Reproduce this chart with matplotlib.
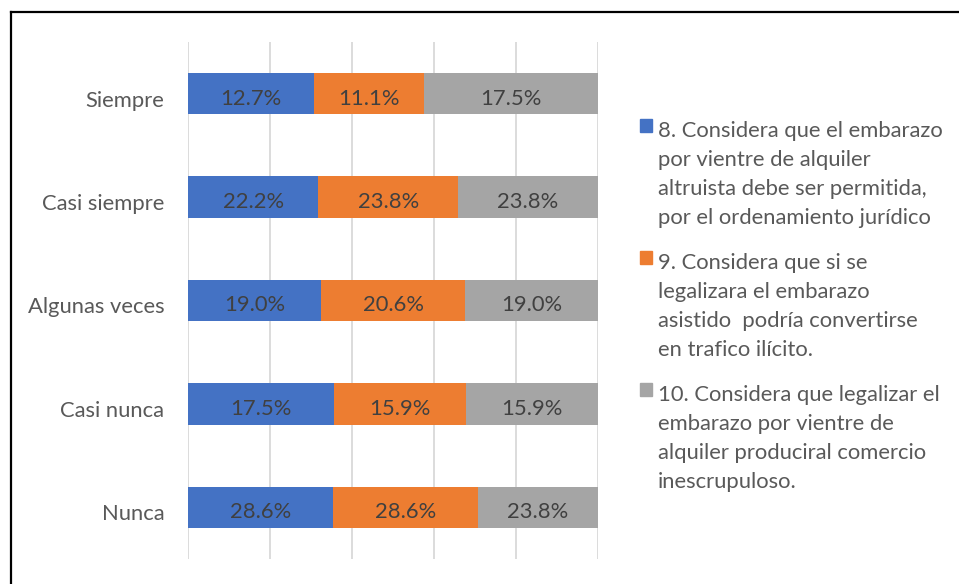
import matplotlib
matplotlib.use("Agg")
import matplotlib.pyplot as plt
import matplotlib.transforms as mtransforms
from matplotlib.patches import Rectangle
import numpy as np

plt.rcParams['font.family'] = ['Lato', 'DejaVu Sans']

categories = ["Siempre", "Casi siempre", "Algunas veces", "Casi nunca", "Nunca"]
series_names = [
    "8. Considera que el embarazo\npor vientre de alquiler\naltruista debe ser permitida,\npor el ordenamiento jurídico",
    "9. Considera que si se\nlegalizara el embarazo\nasistido  podría convertirse\nen trafico ilícito.",
    "10. Considera que legalizar el\nembarazo por vientre de\nalquiler produciral comercio\ninescrupuloso.",
]
q8 = [12.7, 22.2, 19.0, 17.5, 28.6]
q9 = [11.1, 23.8, 20.6, 15.9, 28.6]
q10 = [17.5, 23.8, 19.0, 15.9, 23.8]
colors = ["#4472C4", "#ED7D31", "#A5A5A5"]

W, H = 959, 584
FS = 15.8
fig = plt.figure(figsize=(W / 100, H / 100), dpi=100)

# outer frame (top and left visible)
fig.add_artist(plt.Line2D([11 / W, 11 / W], [0, 1 - 12 / H], color="black", lw=1.6,
                          transform=fig.transFigure))
fig.add_artist(plt.Line2D([11 / W, 1], [1 - 12 / H, 1 - 12 / H], color="black", lw=1.6,
                          transform=fig.transFigure))

ax = fig.add_axes([188 / W, 1 - 559 / H, (598 - 188) / W, (559 - 42) / H])

data = np.array([q8, q9, q10])
totals = data.sum(axis=0)
shares = data / totals * 100
y = np.arange(len(categories))
left = np.zeros(len(categories))
for i in range(3):
    bars = ax.barh(y, shares[i], left=left, height=0.4, color=colors[i], zorder=3)
    for j, b in enumerate(bars):
        ax.annotate(f"{data[i][j]:.1f}%",
                    (b.get_x() + b.get_width() / 2, b.get_y() + b.get_height() / 2),
                    xytext=(0, -3.5), textcoords="offset points",
                    ha="center", va="center", fontsize=FS, color="#404040", zorder=4)
    left += shares[i]

ax.set_xlim(0, 100)
ax.set_ylim(-0.5, len(categories) - 0.5)
ax.invert_yaxis()
ax.set_xticks(np.arange(0, 101, 20))
ax.set_xticklabels([])
ax.tick_params(axis="x", length=0)
ax.grid(axis="x", color="#D9D9D9", lw=1.3, zorder=0)
ax.set_yticks(y)
ax.set_yticklabels(categories, fontsize=FS, color="#595959")
ax.tick_params(axis="y", length=0, pad=17)
offset = mtransforms.ScaledTranslation(0, -3.5 / 72, fig.dpi_scale_trans)
for lab in ax.get_yticklabels():
    lab.set_transform(lab.get_transform() + offset)
for s in ax.spines.values():
    s.set_visible(False)

# legend
entry_tops = [121, 253, 385]
for name, c, ty in zip(series_names, colors, entry_tops):
    fig.add_artist(Rectangle((640 / W, 1 - (ty + 11) / H), 12 / W, 13 / H,
                             color=c, transform=fig.transFigure))
    fig.text(658 / W, 1 - ty / H, name, ha="left", va="top", fontsize=FS,
             color="#595959", linespacing=1.57)

fig.savefig("out.png", dpi=100)
